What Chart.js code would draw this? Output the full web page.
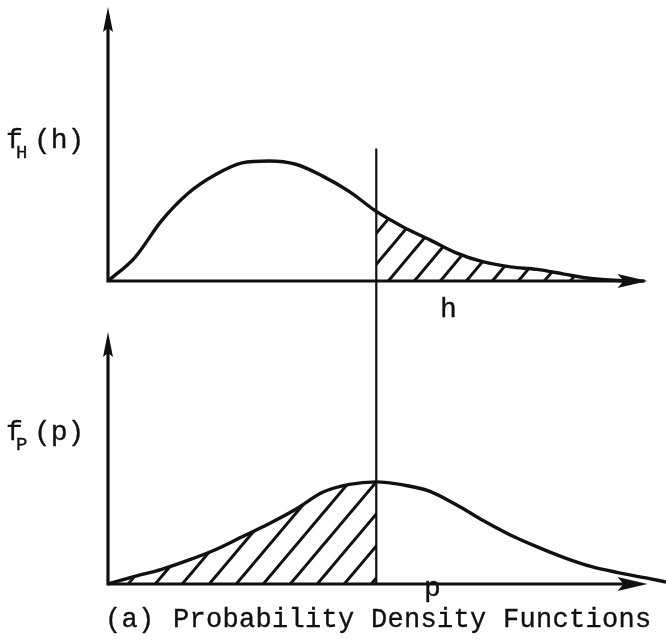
<!DOCTYPE html>
<html>
<head>
<meta charset="utf-8">
<script src="https://cdn.jsdelivr.net/npm/chart.js@4/dist/chart.umd.min.js"></script>
<style>
  html, body { margin: 0; padding: 0; background: #fff; }
  #wrap { position: relative; width: 666px; height: 641px; overflow: hidden; }
  canvas { position: absolute; left: 0; }
  #topChart { top: 0; }
  #botChart { top: 320px; }
</style>
</head>
<body>
<div id="wrap">
  <canvas id="topChart" width="666" height="320"></canvas>
  <canvas id="botChart" width="666" height="321"></canvas>
</div>
<script>
// Abscissa samples shared by both densities (arbitrary units)
const hValues = [0, 0.5, 1, 1.5, 2, 2.5, 3, 3.5, 4, 4.5, 5, 5.5, 6, 6.5, 7, 7.5, 8, 8.5, 9, 9.5, 10];
// f_H(h): skewed density of the load-like variable H
const fH = [0, 0.85, 2.19, 3.19, 3.85, 4.28, 4.35, 4.23, 3.80, 3.24, 2.52, 1.96, 1.49, 1.01, 0.69, 0.51, 0.42, 0.25, 0.09, 0.02, 0];

const pValues = [0, 0.5, 1, 1.5, 2, 2.5, 3, 3.5, 4, 4.5, 5, 5.5, 6, 6.5, 7, 7.5, 8, 8.5, 9, 9.5, 10, 10.4];
// f_P(p): bell-shaped density of the capacity-like variable P
const fP = [0, 0.30, 0.58, 0.94, 1.35, 1.86, 2.37, 2.94, 3.61, 3.92, 4.02, 3.90, 3.65, 3.11, 2.49, 1.93, 1.46, 1.04, 0.69, 0.45, 0.25, 0.08];

// Common cut-off value marked by the vertical line
const cutoff = 5;
const cutoffLineTop = 4.8;   // where the marker line starts in the upper panel

const axisLabels = { top: ['f', 'H', '(h)'], bottom: ['f', 'P', '(p)'] };
const xLabels = { top: 'h', bottom: 'p' };
const caption = ['(a)', 'Probability Density Functions'];

const INK = '#111';
const MONO = '"Liberation Mono", "Courier New", monospace';

function toPoints(xs, ys) { return xs.map((x, i) => ({ x: x, y: ys[i] })); }

function hatchPattern(w, h, lw) {
  const c = document.createElement('canvas');
  c.width = w; c.height = h;
  const g = c.getContext('2d');
  g.strokeStyle = INK;
  g.lineWidth = lw;
  g.lineCap = 'square';
  [-w, 0, w].forEach(dx => {
    g.beginPath();
    g.moveTo(dx, h);
    g.lineTo(dx + w, 0);
    g.stroke();
  });
  return g.createPattern(c, 'repeat');
}

function arrowUp(ctx, x, tipY) {
  ctx.beginPath();
  ctx.moveTo(x, tipY);
  ctx.lineTo(x + 5, tipY + 25);
  ctx.lineTo(x, tipY + 21);
  ctx.lineTo(x - 5, tipY + 25);
  ctx.closePath();
  ctx.fill();
}

function arrowRight(ctx, tipX, y) {
  ctx.beginPath();
  ctx.moveTo(tipX, y);
  ctx.lineTo(tipX - 30, y - 7);
  ctx.lineTo(tipX - 24, y);
  ctx.lineTo(tipX - 30, y + 7);
  ctx.closePath();
  ctx.fill();
}

// typed text, a touch heavier than the plain font
function typeText(ctx, text, x, y, size) {
  ctx.font = size + 'px ' + MONO;
  ctx.lineWidth = 0.35;
  ctx.fillText(text, x, y);
  ctx.strokeText(text, x, y);
}

// Draws the axes with arrowheads, the cut-off marker and the typed labels
const sketchPlugin = {
  id: 'sketch',
  afterDatasetsDraw(chart, args, opts) {
    const ctx = chart.ctx;
    const xs = chart.scales.x, ys = chart.scales.y;
    const x0 = xs.getPixelForValue(0);
    const y0 = ys.getPixelForValue(0);
    const xc = xs.getPixelForValue(cutoff);
    ctx.save();
    ctx.fillStyle = INK;
    ctx.strokeStyle = INK;

    // labels
    const lab = opts.labels;
    ctx.textBaseline = 'alphabetic';
    typeText(ctx, lab[0], opts.labelX + 2, opts.labelY, 28);
    typeText(ctx, lab[1], opts.labelX + 12, opts.labelY + 10, 19);
    typeText(ctx, lab[2], opts.labelX + 30, opts.labelY, 28);
    typeText(ctx, opts.xLabel, opts.xLabelX, opts.xLabelY, 28);
    if (opts.caption) {
      ctx.letterSpacing = '0.3px';
      typeText(ctx, caption[0], 105, opts.captionY, 27);
      typeText(ctx, caption[1], 173, opts.captionY, 27);
      ctx.letterSpacing = '0px';
    }

    // cut-off marker
    ctx.lineWidth = 2.2;
    ctx.beginPath();
    if (opts.cutFromTop) {
      ctx.moveTo(xc, 0);
      ctx.lineTo(xc, y0);
    } else {
      ctx.moveTo(xc, ys.getPixelForValue(cutoffLineTop));
      ctx.lineTo(xc, chart.height);
    }
    ctx.stroke();

    // axes
    ctx.lineWidth = 3.2;
    ctx.lineCap = 'square';
    const yTop = ys.getPixelForValue(ys.max) + 2;
    ctx.beginPath();
    ctx.moveTo(x0, y0);
    ctx.lineTo(x0, yTop + 10);
    ctx.moveTo(x0, y0);
    ctx.lineTo(xs.getPixelForValue(10) - 10, y0);
    ctx.stroke();
    arrowUp(ctx, x0, yTop);
    arrowRight(ctx, xs.getPixelForValue(10) + 3, y0);
    ctx.restore();
  }
};

function panel(canvasId, xs, ys, hatchFilter, pattern, pad, extra) {
  const pts = toPoints(xs, ys);
  return new Chart(document.getElementById(canvasId), {
    type: 'line',
    data: {
      datasets: [
        {
          data: pts,
          borderColor: INK,
          borderWidth: 3.4,
          pointRadius: 0,
          fill: false,
          cubicInterpolationMode: 'monotone',
          clip: false
        },
        {
          data: pts.filter(hatchFilter),
          borderWidth: 0,
          borderColor: 'rgba(0,0,0,0)',
          pointRadius: 0,
          backgroundColor: pattern,
          fill: 'origin',
          cubicInterpolationMode: 'monotone'
        }
      ]
    },
    options: {
      responsive: false,
      animation: false,
      events: [],
      layout: { padding: pad },
      plugins: {
        legend: { display: false },
        tooltip: { enabled: false },
        sketch: extra
      },
      scales: {
        x: { type: 'linear', min: 0, max: 10.4, display: false },
        y: { type: 'linear', min: 0, max: 10, display: false }
      }
    },
    plugins: [sketchPlugin]
  });
}

panel('topChart', hValues, fH, p => p.x >= cutoff, hatchPattern(26, 31, 3),
  { left: 108, right: 0, top: 5, bottom: 39 },
  { labels: axisLabels.top, labelX: 4, labelY: 148, xLabel: xLabels.top, xLabelX: 440, xLabelY: 317, cutFromTop: false, caption: false });

panel('botChart', pValues, fP, p => p.x <= cutoff, hatchPattern(27, 32, 3),
  { left: 108, right: 0, top: 10, bottom: 57 },
  { labels: axisLabels.bottom, labelX: 4, labelY: 120, xLabel: xLabels.bottom, xLabelX: 424, xLabelY: 276, cutFromTop: true, caption: true, captionY: 307 });
</script>
</body>
</html>
